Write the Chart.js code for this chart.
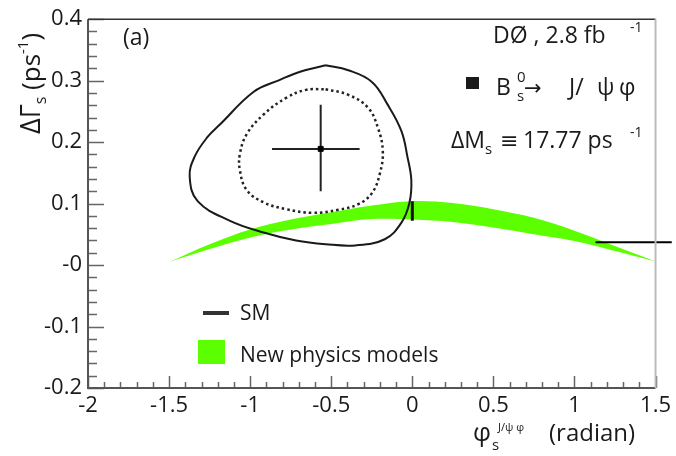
<!DOCTYPE html>
<html lang="en">
<head>
<meta charset="UTF-8">
<title>DeltaGamma_s vs phi_s</title>
<script src="https://cdn.jsdelivr.net/npm/chart.js"></script>
<style>
  body { margin: 0; background: #fff; }
</style>
</head>
<body>
<div style="width:676px;height:456px;">
  <canvas id="chart_phi" width="676" height="456"></canvas>
</div>
<script>
// new physics models band: phi_s and the lower / upper edge of DeltaGamma_s
var bandPhi   = [-1.5, -1.25, -1.0, -0.75, -0.5, -0.25, 0, 0.25, 0.5, 0.75, 1.0, 1.25, 1.5];
var bandUpper = [0.005, 0.034, 0.058, 0.074, 0.086, 0.097, 0.104, 0.101, 0.091, 0.077, 0.056, 0.031, 0.006];
var bandLower = [0.005, 0.026, 0.045, 0.058, 0.067, 0.075, 0.074, 0.070, 0.061, 0.050, 0.039, 0.023, 0.006];

// outer (solid) contour
var outerPhi = [-0.535, -0.395, -0.249, -0.152, -0.067, -0.030, -0.006, -0.018, -0.067, -0.170, -0.352, -0.535,
                -0.717, -0.917, -1.124, -1.324, -1.373, -1.343, -1.264, -1.185, -0.978, -0.820, -0.687];
var outerDG  = [0.325, 0.317, 0.298, 0.261, 0.218, 0.176, 0.138, 0.101, 0.069, 0.042, 0.032, 0.034,
                0.040, 0.053, 0.072, 0.104, 0.144, 0.176, 0.208, 0.229, 0.282, 0.301, 0.315];

// inner (dotted) contour
var innerPhi = [-0.535, -0.395, -0.273, -0.213, -0.182, -0.200, -0.249, -0.334, -0.456, -0.614,
                -0.778, -0.917, -1.021, -1.063, -1.063, -1.021, -0.917, -0.778, -0.656];
var innerDG  = [0.286, 0.277, 0.256, 0.224, 0.186, 0.149, 0.117, 0.099, 0.090, 0.085,
                0.091, 0.102, 0.122, 0.154, 0.181, 0.213, 0.245, 0.272, 0.285];

// measured point with its errors (minus, plus)
var fitPhi = -0.565, fitPhiErr = [0.30, 0.24];
var fitDG = 0.189, fitDGErr = [0.069, 0.072];

// standard model prediction
var smPhi = 0, smDG = [0.072, 0.104];

// short line at the right edge
var edgePhi = [1.13, 1.6], edgeDG = 0.037;

var xTickValues = [-2, -1.5, -1, -0.5, 0, 0.5, 1, 1.5];
var xTickLabels = ['-2', '-1.5', '-1', '-0.5', '0', '0.5', '1', '1.5'];
var yTickValues = [-0.2, -0.1, 0, 0.1, 0.2, 0.3, 0.4];
var yTickLabels = ['-0.2', '-0.1', '-0', '0.1', '0.2', '0.3', '0.4'];

var FONT = '"Open Sans", "DejaVu Sans", sans-serif';
var GREEN = 'rgb(92,255,0)';

function pts(xs, ys) {
    return xs.map(function (x, i) { return { x: x, y: ys[i] }; });
}
function closed(xs, ys) {
    var p = pts(xs, ys);
    p.push({ x: xs[0], y: ys[0] });
    return p;
}

// draws a row of text pieces; a piece with keep:true does not advance x
function drawRuns(ctx, x, y, runs) {
    runs.forEach(function (r) {
        ctx.font = r.size + 'px ' + FONT;
        if (r.x !== undefined) x = r.x;
        ctx.fillText(r.t, x, y + (r.dy || 0));
        if (!r.keep) x += ctx.measureText(r.t).width;
    });
}

var frameAndText = {
    id: 'frameAndText',
    afterDatasetsDraw: function (chart) {
        var ctx = chart.ctx, a = chart.chartArea, xs = chart.scales.x, ys = chart.scales.y;
        ctx.save();
        ctx.lineWidth = 1.5;
        ctx.strokeStyle = '#666';
        ctx.beginPath();
        // y ticks, inward from the left axis
        for (var k = 0; k <= 30; k++) {
            var v = -0.2 + k * 0.02;
            var py = Math.round(ys.getPixelForValue(v)) + 0.5;
            var len = (k % 5 === 0) ? 16 : 9;
            ctx.moveTo(a.left, py);
            ctx.lineTo(a.left + len, py);
        }
        // x ticks, upward from the bottom axis
        for (var j = 0; j <= 35; j++) {
            var u = -2 + j * 0.1;
            var px = Math.round(xs.getPixelForValue(u)) + 0.5;
            var l2 = (j % 5 === 0) ? 12 : 6;
            ctx.moveTo(px, a.bottom);
            ctx.lineTo(px, a.bottom - l2);
        }
        ctx.stroke();

        // frame
        ctx.lineWidth = 2;
        ctx.strokeStyle = '#555';
        ctx.beginPath();
        ctx.moveTo(a.left, a.top);
        ctx.lineTo(a.left, a.bottom);
        ctx.lineTo(a.right, a.bottom);
        ctx.stroke();
        ctx.strokeStyle = '#333';
        ctx.lineWidth = 1.5;
        ctx.beginPath();
        ctx.moveTo(a.left, a.top);
        ctx.lineTo(a.right, a.top);
        ctx.stroke();
        ctx.strokeStyle = '#bbb';
        ctx.lineWidth = 2;
        ctx.beginPath();
        ctx.moveTo(a.right, a.top);
        ctx.lineTo(a.right, a.bottom);
        ctx.stroke();
        ctx.restore();
    },
    afterDraw: function (chart) {
        var ctx = chart.ctx;
        ctx.save();
        ctx.fillStyle = '#1a1a1a';
        ctx.textBaseline = 'alphabetic';
        ctx.textAlign = 'left';

        drawRuns(ctx, 123, 45, [{ t: '(a)', size: 23 }]);

        drawRuns(ctx, 493, 43, [
            { t: 'DØ , 2.8 fb', size: 23 },
            { t: '-1', size: 14, dy: -11, x: 630 }
        ]);

        // marker for the legend of the measurement
        ctx.fillRect(466, 77, 13, 12);
        drawRuns(ctx, 496, 95, [
            { t: 'B', size: 23 },
            { t: 's', size: 15, dy: 6, keep: true, x: 517 },
            { t: '0', size: 15, dy: -13, x: 517 },
            { t: '→', size: 21, x: 524 },
            { t: 'J/', size: 23, x: 569 },
            { t: 'ψ', size: 23, x: 597 },
            { t: 'φ', size: 23, x: 619 }
        ]);

        drawRuns(ctx, 451, 148, [
            { t: 'ΔM', size: 23 },
            { t: 's', size: 15, dy: 6 },
            { t: '≡', size: 22, x: 500 },
            { t: '17.77 ps', size: 23, x: 523 },
            { t: '-1', size: 14, dy: -11, x: 630 }
        ]);

        // legend
        ctx.fillStyle = '#333';
        ctx.fillRect(203, 311, 26, 4);
        ctx.fillStyle = GREEN;
        ctx.fillRect(198, 340, 27, 24);
        ctx.fillStyle = '#1a1a1a';
        drawRuns(ctx, 240, 320, [{ t: 'SM', size: 21 }]);
        drawRuns(ctx, 240, 362, [{ t: 'New physics models', size: 21 }]);

        // x axis title
        drawRuns(ctx, 473, 441, [
            { t: 'φ', size: 25 },
            { t: 's', size: 15, dy: 9, keep: true, x: 492 },
            { t: 'J/ψ φ', size: 11, dy: -10, x: 498 },
            { t: '(radian)', size: 24, x: 549 }
        ]);

        // y axis title, rotated
        ctx.translate(40, 134);
        ctx.rotate(-Math.PI / 2);
        drawRuns(ctx, 0, 0, [
            { t: 'ΔΓ', size: 27 },
            { t: 's', size: 16, dy: 6 },
            { t: ' (ps', size: 26 },
            { t: '-1', size: 15, dy: -12 },
            { t: ')', size: 26 }
        ]);
        ctx.restore();
    }
};

var ctx_phi = document.getElementById('chart_phi').getContext('2d');
var chart_phi = new Chart(ctx_phi, {
    type: 'scatter',
    data: {
        datasets: [{
            // SM prediction
            data: [{ x: smPhi, y: smDG[0] }, { x: smPhi, y: smDG[1] }],
            showLine: true, borderColor: '#111', borderWidth: 3, pointRadius: 0
        }, {
            // measured point
            data: [{ x: fitPhi, y: fitDG }],
            pointStyle: 'rect', pointRadius: 3.5, backgroundColor: '#000', borderColor: '#000'
        }, {
            data: [{ x: fitPhi - fitPhiErr[0], y: fitDG }, { x: fitPhi + fitPhiErr[1], y: fitDG }],
            showLine: true, borderColor: '#222', borderWidth: 2, pointRadius: 0
        }, {
            data: [{ x: fitPhi, y: fitDG - fitDGErr[0] }, { x: fitPhi, y: fitDG + fitDGErr[1] }],
            showLine: true, borderColor: '#222', borderWidth: 2, pointRadius: 0
        }, {
            data: closed(innerPhi, innerDG),
            showLine: true, borderColor: '#222', borderWidth: 2.5, borderDash: [2.5, 3],
            pointRadius: 0, tension: 0.4
        }, {
            data: closed(outerPhi, outerDG),
            showLine: true, borderColor: '#1a1a1a', borderWidth: 2, pointRadius: 0, tension: 0.4
        }, {
            data: [{ x: edgePhi[0], y: edgeDG }, { x: edgePhi[1], y: edgeDG }],
            showLine: true, borderColor: '#000', borderWidth: 2, pointRadius: 0, clip: false
        }, {
            // band upper edge, filled down to the lower edge
            data: pts(bandPhi, bandUpper),
            showLine: true, borderWidth: 0, borderColor: GREEN, pointRadius: 0, tension: 0.35,
            fill: '+1', backgroundColor: GREEN
        }, {
            data: pts(bandPhi, bandLower),
            showLine: true, borderWidth: 0, borderColor: GREEN, pointRadius: 0, tension: 0.35
        }]
    },
    options: {
        responsive: false,
        animation: false,
        events: [],
        layout: { padding: { top: 12, right: 11, left: 0, bottom: 0 }, autoPadding: false },
        plugins: { legend: { display: false }, tooltip: { enabled: false } },
        scales: {
            x: {
                type: 'linear', min: -2, max: 1.5,
                afterBuildTicks: function (s) { s.ticks = xTickValues.map(function (v) { return { value: v }; }); },
                afterFit: function (s) { s.height = 68; },
                grid: { display: false, drawTicks: false },
                border: { display: false },
                ticks: {
                    callback: function (v, i) { return xTickLabels[i]; },
                    autoSkip: false, maxRotation: 0, padding: 5,
                    color: '#1a1a1a', font: { family: FONT, size: 22 }
                }
            },
            y: {
                type: 'linear', min: -0.2, max: 0.4,
                afterBuildTicks: function (s) { s.ticks = yTickValues.map(function (v) { return { value: v }; }); },
                afterFit: function (s) { s.width = 88; },
                grid: { display: false, drawTicks: false },
                border: { display: false },
                ticks: {
                    callback: function (v, i) { return yTickLabels[i]; },
                    autoSkip: false, padding: 6,
                    color: '#1a1a1a', font: { family: FONT, size: 22 }
                }
            }
        }
    },
    plugins: [frameAndText]
});
</script>
</body>
</html>
